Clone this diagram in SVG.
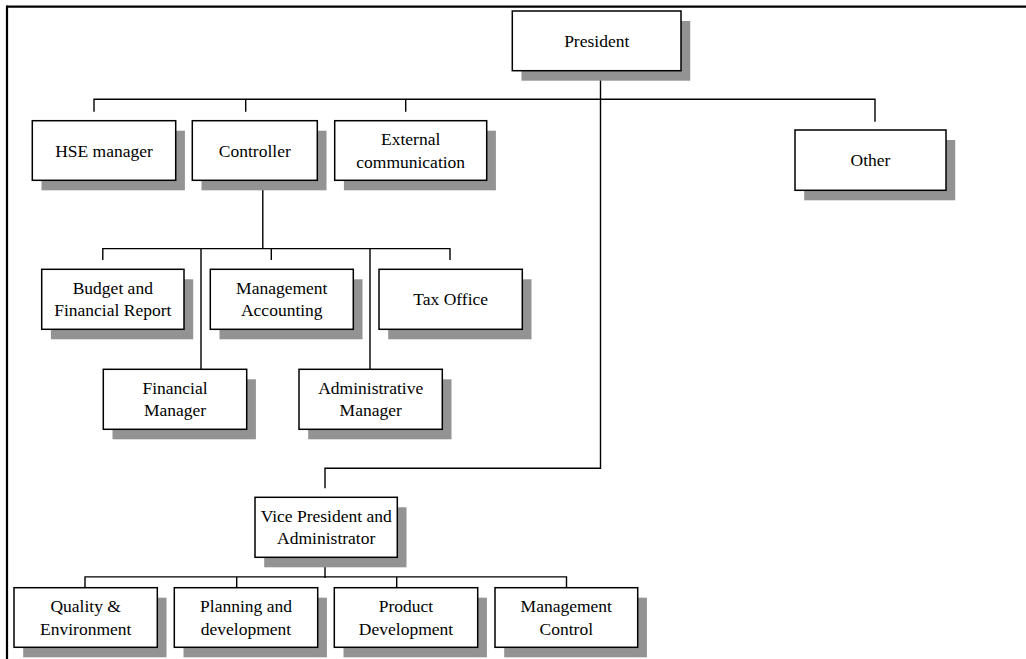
<svg xmlns="http://www.w3.org/2000/svg" width="1026" height="659" viewBox="0 0 1026 659">
  <style>
    .frame { stroke: #000; stroke-width: 2.2; fill: none; }
    .link { stroke: #000; stroke-width: 1.4; fill: none; }
    .shadow { fill: #939393; }
    .box { fill: #fff; stroke: #000; stroke-width: 1.5; }
    text { font-family: "Liberation Serif", "Times New Roman", serif; font-size: 17.5px; fill: #000; text-anchor: middle; }
  </style>
  <defs>
    <!-- standard unit box with drop shadow; width varies per node -->
  </defs>
  <rect width="1026" height="659" fill="#fff"/>

  <!-- outer frame: left and top rules -->
  <g id="frame">
    <line class="frame" x1="7" y1="6.7" x2="1026" y2="6.7"/>
    <line class="frame" x1="7" y1="5.6" x2="7" y2="659"/>
  </g>

  <!-- connectors -->
  <g id="connectors">
    <!-- President trunk down to the vice president branch -->
    <path class="link" d="M600.5 70.7 V468.3 H325 V488.3"/>
    <!-- first level bus -->
    <path class="link" d="M94 111.7 V99.3 H875 V121.7"/>
    <line class="link" x1="245.7" y1="99.3" x2="245.7" y2="111.7"/>
    <line class="link" x1="405.7" y1="99.3" x2="405.7" y2="111.7"/>
    <!-- controller branch -->
    <line class="link" x1="262.8" y1="180.3" x2="262.8" y2="248.6"/>
    <path class="link" d="M102.8 260 V248.6 H450 V260"/>
    <line class="link" x1="271.3" y1="248.6" x2="271.3" y2="260"/>
    <line class="link" x1="201" y1="248.6" x2="201" y2="369.3"/>
    <line class="link" x1="370" y1="248.6" x2="370" y2="369.3"/>
    <!-- vice president branch -->
    <line class="link" x1="325" y1="557.3" x2="325" y2="578"/>
    <path class="link" d="M85 587.7 V576.9 H566.5 V587.7"/>
    <line class="link" x1="236.7" y1="576.9" x2="236.7" y2="587.7"/>
    <line class="link" x1="396.7" y1="576.9" x2="396.7" y2="587.7"/>
  </g>

  <g id="president">
    <rect class="shadow" x="521.5" y="21" width="168.7" height="59.7"/>
    <rect class="box" x="512.3" y="11" width="168.7" height="59.7"/>
    <text x="596.7" y="47">President</text>
  </g>

  <g id="hse-manager">
    <rect class="shadow" x="41.5" y="130.7" width="143.4" height="59.6"/>
    <rect class="box" x="32.3" y="120.7" width="143.4" height="59.6"/>
    <text x="104" y="156.5">HSE manager</text>
  </g>

  <g id="controller">
    <rect class="shadow" x="201.5" y="130.7" width="125" height="59.6"/>
    <rect class="box" x="192.3" y="120.7" width="125" height="59.6"/>
    <text x="254.8" y="156.5">Controller</text>
  </g>

  <g id="external-communication">
    <rect class="shadow" x="343.9" y="130.7" width="152" height="59.6"/>
    <rect class="box" x="334.7" y="120.7" width="152" height="59.6"/>
    <text x="410.7" y="145">External</text>
    <text x="410.7" y="167.5">communication</text>
  </g>

  <g id="other">
    <rect class="shadow" x="804.2" y="140" width="151" height="60.3"/>
    <rect class="box" x="795" y="130" width="151" height="60.3"/>
    <text x="870.5" y="166">Other</text>
  </g>

  <g id="budget-financial-report">
    <rect class="shadow" x="50.9" y="279.3" width="142.3" height="60"/>
    <rect class="box" x="41.7" y="269.3" width="142.3" height="60"/>
    <text x="112.8" y="293.5">Budget and</text>
    <text x="112.8" y="316">Financial Report</text>
  </g>

  <g id="management-accounting">
    <rect class="shadow" x="219.5" y="279.3" width="143" height="60"/>
    <rect class="box" x="210.3" y="269.3" width="143" height="60"/>
    <text x="281.8" y="293.5">Management</text>
    <text x="281.8" y="316">Accounting</text>
  </g>

  <g id="tax-office">
    <rect class="shadow" x="388.2" y="279.3" width="143.3" height="60"/>
    <rect class="box" x="379" y="269.3" width="143.3" height="60"/>
    <text x="450.7" y="305.3">Tax Office</text>
  </g>

  <g id="financial-manager">
    <rect class="shadow" x="112.5" y="379.3" width="143.4" height="60"/>
    <rect class="box" x="103.3" y="369.3" width="143.4" height="60"/>
    <text x="175" y="393.5">Financial</text>
    <text x="175" y="416">Manager</text>
  </g>

  <g id="administrative-manager">
    <rect class="shadow" x="308.2" y="379.3" width="143.3" height="60"/>
    <rect class="box" x="299" y="369.3" width="143.3" height="60"/>
    <text x="370.7" y="393.5">Administrative</text>
    <text x="370.7" y="416">Manager</text>
  </g>

  <g id="vice-president">
    <rect class="shadow" x="264.2" y="507.3" width="142.3" height="60"/>
    <rect class="box" x="255" y="497.3" width="142.3" height="60"/>
    <text x="326.2" y="521.5">Vice President and</text>
    <text x="326.2" y="544">Administrator</text>
  </g>

  <g id="quality-environment">
    <rect class="shadow" x="23.2" y="597.7" width="143.3" height="59.6"/>
    <rect class="box" x="14" y="587.7" width="143.3" height="59.6"/>
    <text x="85.7" y="612">Quality &amp;</text>
    <text x="85.7" y="634.5">Environment</text>
  </g>

  <g id="planning-development">
    <rect class="shadow" x="183.5" y="597.7" width="143.4" height="59.6"/>
    <rect class="box" x="174.3" y="587.7" width="143.4" height="59.6"/>
    <text x="246" y="612">Planning and</text>
    <text x="246" y="634.5">development</text>
  </g>

  <g id="product-development">
    <rect class="shadow" x="343.5" y="597.7" width="143.4" height="59.6"/>
    <rect class="box" x="334.3" y="587.7" width="143.4" height="59.6"/>
    <text x="406" y="612">Product</text>
    <text x="406" y="634.5">Development</text>
  </g>

  <g id="management-control">
    <rect class="shadow" x="504.2" y="597.7" width="142.7" height="59.6"/>
    <rect class="box" x="495" y="587.7" width="142.7" height="59.6"/>
    <text x="566.3" y="612">Management</text>
    <text x="566.3" y="634.5">Control</text>
  </g>
</svg>
